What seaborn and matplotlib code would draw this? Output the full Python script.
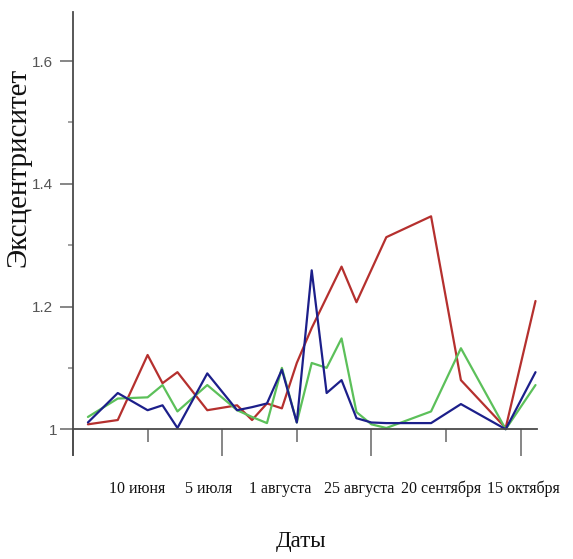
import matplotlib
matplotlib.use("Agg")
import matplotlib.pyplot as plt
import matplotlib.transforms as mtransforms
from matplotlib.ticker import FixedLocator
import pandas as pd
import seaborn as sns

# Observation days (counted from the start of the season)
days = [5, 15, 25, 30, 35, 45, 55, 60, 65, 70, 75, 80, 85, 90, 95, 100, 105, 120, 130, 145, 155]

red = [1.008, 1.015, 1.121, 1.075, 1.093, 1.031, 1.039, 1.015, 1.042, 1.034, 1.108,
       1.165, 1.215, 1.265, 1.207, 1.260, 1.313, 1.347, 1.080, 1.002, 1.209]
blue = [1.011, 1.059, 1.031, 1.039, 1.002, 1.091, 1.031, 1.036, 1.042, 1.097, 1.011,
        1.259, 1.059, 1.080, 1.018, 1.011, 1.010, 1.010, 1.041, 1.000, 1.093]
green = [1.020, 1.050, 1.052, 1.072, 1.029, 1.072, 1.031, 1.020, 1.010, 1.100, 1.011,
         1.108, 1.100, 1.148, 1.028, 1.008, 1.002, 1.029, 1.132, 1.000, 1.072]

date_labels = ["10 июня", "5 июля", "1 августа", "25 августа", "20 сентября", "15 октября"]
y_tick_values = [1.0, 1.2, 1.4, 1.6]
y_tick_labels = ["1", "1.2", "1.4", "1.6"]

df = pd.concat([
    pd.DataFrame({"day": days, "value": red, "series": "red"}),
    pd.DataFrame({"day": days, "value": blue, "series": "blue"}),
    pd.DataFrame({"day": days, "value": green, "series": "green"}),
])
palette = {"red": "#b5302e", "blue": "#1c1f8a", "green": "#5cc05a"}

sns.set_theme(style="white")
plt.rcParams["font.family"] = ["Liberation Sans Narrow", "Liberation Sans", "DejaVu Sans"]

W, H = 573, 559
fig = plt.figure(figsize=(W / 100, H / 100), dpi=100)
ax = fig.add_axes([73 / W, 1 - 455 / H, (537 - 73) / W, (455 - 12) / H])

sns.lineplot(data=df, x="day", y="value", hue="series", palette=palette,
             hue_order=["red", "green", "blue"], linewidth=1.6, legend=False,
             estimator=None, sort=False, ax=ax)

ax.set_xlim(0, 155.5)
ax.set_ylim(0.958, 1.68)
ax.set_xlabel("")
ax.set_ylabel("")

axis_col = "#4a4a4a"
for side in ("top", "right"):
    ax.spines[side].set_visible(False)
ax.spines["left"].set_color(axis_col)
ax.spines["left"].set_linewidth(1.3)
ax.spines["bottom"].set_color(axis_col)
ax.spines["bottom"].set_linewidth(1.3)
ax.spines["bottom"].set_position(("data", 1.0))

# x axis: long marks every 50 days, short marks in between
ax.xaxis.set_major_locator(FixedLocator([0, 50, 100, 150]))
ax.xaxis.set_minor_locator(FixedLocator([25, 75, 125]))
ax.tick_params(axis="x", which="major", direction="out", length=19.5, width=1.1,
               color="#666666", labelbottom=False, bottom=True)
ax.tick_params(axis="x", which="minor", direction="out", length=9.5, width=1.1,
               color="#666666", bottom=True)

# y axis
ax.yaxis.set_major_locator(FixedLocator(y_tick_values))
ax.set_yticklabels(y_tick_labels)
ax.yaxis.set_minor_locator(FixedLocator([1.1, 1.3, 1.5]))
ax.tick_params(axis="y", which="major", direction="out", length=9.5, width=1.1,
               color="#666666", labelsize=11, labelcolor="#555555", pad=5, left=True)
ax.tick_params(axis="y", which="minor", direction="out", length=3.6, width=1.1,
               color="#888888", left=True)
one_label = ax.get_yticklabels()[0]
one_label.set_transform(one_label.get_transform() +
                        mtransforms.ScaledTranslation(5 / 100, 0, fig.dpi_scale_trans))

# date labels under the axis
label_days = [21.5, 45.5, 69.5, 96, 123.5, 151]
trans = mtransforms.blended_transform_factory(ax.transData, fig.transFigure)
for d, lab in zip(label_days, date_labels):
    ax.text(d, 1 - 489 / H, lab, transform=trans, ha="center", va="center",
            fontsize=11.5, family="Liberation Serif", color="#111111")

fig.text(301 / W, 1 - 541 / H, "Даты", ha="center", va="center",
         fontsize=16.5, family="Liberation Serif", color="#111111")
fig.text(18 / W, 1 - 167 / H, "Эксцентриситет", ha="center", va="center",
         rotation=90, fontsize=21, family="Liberation Serif", color="#111111")

fig.savefig("out.png", dpi=100)
